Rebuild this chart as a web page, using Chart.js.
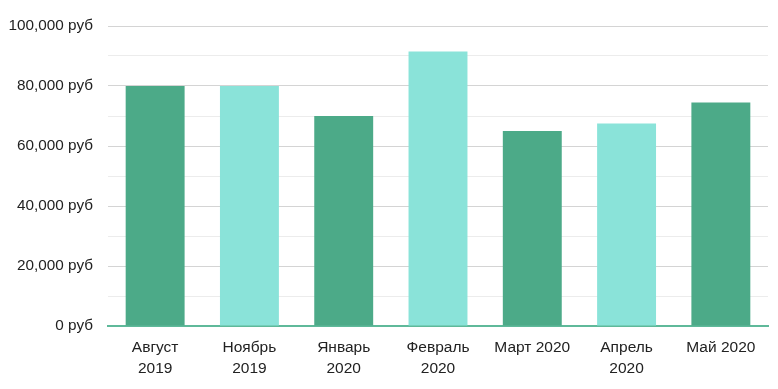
<!DOCTYPE html>
<html>
<head>
<meta charset="utf-8">
<script src="https://cdn.jsdelivr.net/npm/chart.js@4/dist/chart.umd.min.js"></script>
<style>
  html, body { margin: 0; padding: 0; background: #fff; }
  #wrap { width: 778px; height: 389px; position: relative; }
</style>
</head>
<body>
<div id="wrap"><canvas id="myChart"></canvas></div>
<script>
const months = [
  ["Август", "2019"],
  ["Ноябрь", "2019"],
  ["Январь", "2020"],
  ["Февраль", "2020"],
  "Март 2020",
  ["Апрель", "2020"],
  "Май 2020"
]
const income = [80000, 80000, 70000, 91500, 65000, 67500, 74500]
const yMax = 100000
const yStep = 10000
const labelStep = 20000

const dark = "#4caa88"
const light = "#8ae3d9"
const barColors = [dark, light, dark, light, dark, light, dark]

const fmt = (v) => v.toLocaleString("en-US") + " руб"

const config = {
  type: "bar",
  data: {
    labels: months,
    datasets: [
      {
        data: income,
        backgroundColor: barColors,
        borderWidth: 0,
        barPercentage: 0.625,
        categoryPercentage: 1,
      },
    ],
  },
  options: {
    responsive: true,
    maintainAspectRatio: false,
    animation: false,
    layout: { padding: { top: 26, right: 10, left: 0, bottom: 0 } },
    plugins: {
      legend: { display: false },
      tooltip: { enabled: false },
    },
    scales: {
      x: {
        grid: { display: false },
        border: { display: true, color: "#5fb99a", width: 2 },
        ticks: {
          color: "#222",
          font: { family: "Liberation Sans, Arial", size: 15.5, lineHeight: 1.3 },
          padding: 4,
          maxRotation: 0,
          autoSkip: false,
        },
        afterFit: (scale) => {
          scale.height = 63
        },
      },
      y: {
        min: 0,
        max: yMax,
        border: { display: false },
        grid: {
          drawTicks: false,
          color: (ctx) =>
            ctx.tick && ctx.tick.value % labelStep === 0 ? "#d4d4d4" : "#ececec",
          lineWidth: 1,
        },
        ticks: {
          stepSize: yStep,
          color: "#222",
          font: { family: "Liberation Sans, Arial", size: 15.3 },
          padding: 15,
          callback: (v) => (v % labelStep === 0 ? fmt(v) : ""),
        },
        afterFit: (scale) => {
          scale.width = 108
        },
      },
    },
  },
}

const myChart = new Chart(document.getElementById("myChart"), config)
</script>
</body>
</html>
